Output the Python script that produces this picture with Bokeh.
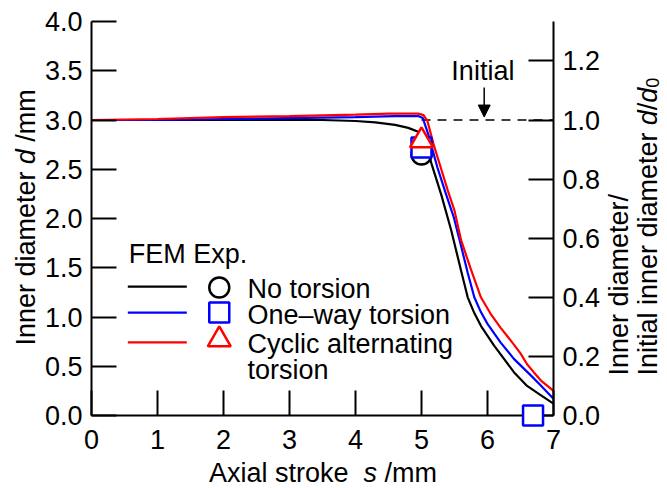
import math
from bokeh.plotting import figure
from bokeh.models import (Range1d, LinearAxis, FixedTicker, PrintfTickFormatter,
                          Label, Arrow, NormalHead)
from bokeh.core.properties import value
from bokeh.embed import file_html
from bokeh.resources import INLINE

FONT = "Liberation Sans"
FS = "27px"
FSZ = 27.0

# ---------------- data ----------------
x_ticks = [0, 1, 2, 3, 4, 5, 6, 7]
y_ticks = [0.0, 0.5, 1.0, 1.5, 2.0, 2.5, 3.0, 3.5, 4.0]
ratio_ticks = [0.0, 0.2, 0.4, 0.6, 0.8, 1.0, 1.2]

# FEM, no torsion (black)
fem_none_s = [0, 1, 2, 3, 3.5, 4.0, 4.3, 4.6, 4.8, 4.95, 5.05, 5.15, 5.3, 5.45,
              5.6, 5.7, 5.8, 5.9, 6.1, 6.4, 6.6, 6.8, 7.0]
fem_none_d = [3.0, 3.0, 3.0, 3.0, 3.0, 2.99, 2.975, 2.95, 2.92, 2.88, 2.80, 2.56,
              2.24, 1.88, 1.47, 1.2, 1.04, 0.91, 0.71, 0.44, 0.30, 0.21, 0.12]

# FEM, one-way torsion (blue)
fem_one_s = [0, 1, 2, 3, 4, 4.6, 4.95, 5.02, 5.1, 5.24, 5.36, 5.49, 5.6, 5.7,
             5.8, 5.9, 6.0, 6.2, 6.4, 6.66, 6.8, 7.0]
fem_one_d = [3.0, 3.0, 3.01, 3.02, 3.03, 3.04, 3.04, 3.02, 2.86, 2.52, 2.27,
             2.01, 1.72, 1.45, 1.2, 1.05, 0.93, 0.74, 0.575, 0.405, 0.31, 0.17]

# FEM, cyclic alternating torsion (red)
fem_cyc_s = [0, 1, 2, 3, 4, 4.5, 4.95, 5.03, 5.09, 5.18, 5.29, 5.4, 5.5, 5.6,
             5.75, 5.9, 6.05, 6.2, 6.4, 6.5, 6.6, 6.7, 6.81, 7.0]
fem_cyc_d = [3.0, 3.01, 3.03, 3.04, 3.055, 3.065, 3.065, 3.05, 2.99, 2.76, 2.52,
             2.28, 2.08, 1.78, 1.48, 1.2, 1.03, 0.89, 0.72, 0.63, 0.52, 0.44,
             0.355, 0.25]

# Experiments
exp_none_s = [5.0]
exp_none_d = [2.65]
exp_one_s = [5.0, 6.69]
exp_one_d = [2.72, 0.0]
exp_cyc_s = [5.0]
exp_cyc_d = [2.79]

# initial diameter reference line
initial_s = [5.0, 7.0]
initial_d = [3.0, 3.0]

legend_labels = ["No torsion", "One\u2013way torsion", "Cyclic alternating", "torsion"]

# ---------------- figure ----------------
p = figure(width=666, height=487, output_backend="svg", toolbar_location=None,
           title=None, x_range=Range1d(0, 7), y_range=Range1d(0, 4),
           min_border_left=91, min_border_right=113, min_border_top=21,
           min_border_bottom=72)
p.outline_line_color = None
p.grid.visible = False
p.background_fill_color = "white"
p.border_fill_color = "white"

p.extra_y_ranges = {"ratio": Range1d(0, 4.0 / 3.0)}
xax = p.xaxis[0]
yax = p.yaxis[0]
rax = LinearAxis(y_range_name="ratio")
p.add_layout(rax, "right")

xax.ticker = FixedTicker(ticks=x_ticks)
xax.formatter = PrintfTickFormatter(format="%d")
yax.ticker = FixedTicker(ticks=y_ticks)
yax.formatter = PrintfTickFormatter(format="%.1f")
rax.ticker = FixedTicker(ticks=ratio_ticks)
rax.formatter = PrintfTickFormatter(format="%.1f")

for ax in (xax, yax, rax):
    ax.axis_line_width = 2
    ax.axis_line_color = "black"
    ax.major_tick_line_width = 2
    ax.major_tick_line_color = "black"
    ax.major_tick_in = 25
    ax.major_tick_out = 0
    ax.minor_tick_line_color = None
    ax.major_label_text_font = FONT
    ax.major_label_text_font_size = FS
    ax.major_label_text_color = "black"
xax.major_label_standoff = 14
yax.major_label_standoff = 9
rax.major_label_standoff = 9

# reference line + curves
p.line(initial_s, initial_d, line_color="black", line_width=1.5, line_dash="9 7")
p.line(fem_none_s, fem_none_d, line_color="black", line_width=2.2)
p.line(fem_one_s, fem_one_d, line_color="#0000ff", line_width=2.2)
p.line(fem_cyc_s, fem_cyc_d, line_color="#ff0000", line_width=2.2)

p.scatter(exp_none_s, exp_none_d, marker="circle", size=20, line_color="black",
          line_width=2.5, fill_color="white", level="overlay")
p.scatter(exp_one_s, exp_one_d, marker="square", size=20, line_color="#0000ff",
          line_width=2.5, fill_color="white", level="overlay")
p.scatter(exp_cyc_s, exp_cyc_d, marker="triangle", size=23, line_color="#ff0000",
          line_width=2.5, fill_color="white", level="overlay")

PX_X = 66.0    # px per unit s
PX_Y = 98.6    # px per unit d
SHIFT_H = 8.5 / PX_Y    # baseline correction, horizontal text
SHIFT_R = 10.0 / PX_X   # baseline correction, rotated text

# "Initial" annotation
p.add_layout(Label(x=5.93, y=3.415 + SHIFT_H, text="Initial", text_font=FONT,
                   text_font_size=FS, text_align="center", text_baseline="alphabetic",
                   text_color="black"))
p.add_layout(Arrow(x_start=5.95, y_start=3.33, x_end=5.95, y_end=3.03, line_width=1.5,
                   line_color="black",
                   end=NormalHead(size=12, fill_color="black", line_color="black")))

# ---------------- legend (manual) ----------------
lx0, lx1 = 0.55, 1.444
mx = 1.936
tx = 2.364
rows = [1.308, 1.045, 0.743]
colors = ["black", "#0000ff", "#ff0000"]
for r, c in zip(rows, colors):
    p.line([lx0, lx1], [r, r], line_color=c, line_width=2.2)
p.scatter([mx], [1.30], marker="circle", size=20, line_color="black", line_width=2.5,
          fill_color="white")
p.scatter([mx], [1.045], marker="square", size=20, line_color="#0000ff", line_width=2.5,
          fill_color="white")
p.scatter([mx], [0.77], marker="triangle", size=23, line_color="#ff0000", line_width=2.5,
          fill_color="white")
p.add_layout(Label(x=0.565, y=1.555 + SHIFT_H, text="FEM Exp.", text_font=FONT,
                   text_font_size=FS, text_baseline="alphabetic", text_color="black"))
for t, yb in zip(legend_labels, [1.197, 0.933, 0.639, 0.375]):
    p.add_layout(Label(x=tx, y=yb + SHIFT_H, text=t, text_font=FONT, text_font_size=FS,
                       text_baseline="alphabetic", text_color="black"))


# ---------------- axis titles (text glyphs drawn on the overlay level) ----------------
def lab(x, y, text, italic=False, angle=0.0, size=FS):
    p.text(x=[x], y=[y], text=[text], text_font=value(FONT),
           text_font_size=value(size),
           text_font_style=value("italic" if italic else "normal"),
           text_baseline=value("alphabetic"), text_align=value("left"),
           angle=angle, text_color="black", level="overlay")


ROT = math.pi / 2

# left title: "Inner diameter d /mm"
ly0 = 0.71
lxb = -0.844 - SHIFT_R
w_inner = 6.725 * FSZ / PX_Y
w_d = 0.834 * FSZ / PX_Y
lab(lxb, ly0, "Inner diameter", angle=ROT)
lab(lxb, ly0 + w_inner, "d", italic=True, angle=ROT)
lab(lxb, ly0 + w_inner + w_d, "/mm", angle=ROT)

# bottom title: "Axial stroke  s /mm"
bx0 = 1.78
byb = -0.67 + SHIFT_H
lab(bx0, byb, "Axial stroke")
lab(bx0 + 5.724 * FSZ / PX_X, byb, "s", italic=True)
lab(bx0 + (5.724 + 0.778) * FSZ / PX_X, byb, "/mm")

# right title (two lines)
ry0 = 0.406
r1 = 8.145 - SHIFT_R
r2 = 8.576 - SHIFT_R
lab(r1, ry0, "Inner diameter/", angle=ROT)
lab(r2, ry0, "Initial inner diameter", angle=ROT)
y_d1 = ry0 + 9.281 * FSZ / PX_Y
lab(r2, y_d1, "d", italic=True, angle=ROT)
y_sl = y_d1 + 0.556 * FSZ / PX_Y
lab(r2, y_sl, "/", angle=ROT)
y_d2 = y_sl + 0.278 * FSZ / PX_Y
lab(r2, y_d2, "d", italic=True, angle=ROT)
y_0 = y_d2 + 0.556 * FSZ / PX_Y
lab(r2 + 5.0 / PX_X, y_0, "0", angle=ROT, size="18px")

open("out.html", "w").write(file_html(p, INLINE))
